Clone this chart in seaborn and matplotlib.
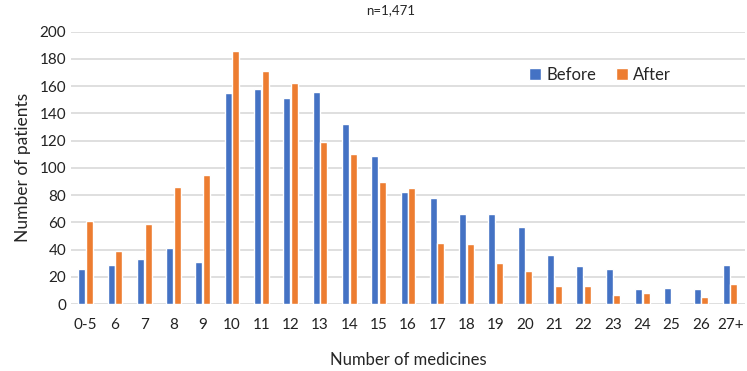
import pandas as pd
import seaborn as sns
import matplotlib.pyplot as plt

categories = ['0-5', '6', '7', '8', '9', '10', '11', '12', '13', '14', '15', '16',
              '17', '18', '19', '20', '21', '22', '23', '24', '25', '26', '27+']
before = [26, 29, 33, 41, 31, 155, 158, 151, 156, 132, 109, 82,
          78, 66, 66, 57, 36, 28, 26, 11, 12, 11, 29]
after = [61, 39, 59, 86, 95, 186, 171, 162, 119, 110, 90, 85,
         45, 44, 30, 24, 13, 13, 7, 8, 1, 5, 15]


def main():
    df = pd.DataFrame({
        'medicines': categories * 2,
        'patients': before + after,
        'period': ['Before'] * len(categories) + ['After'] * len(categories),
    })

    sns.set_style('white')
    plt.rcParams['font.family'] = ['Lato', 'DejaVu Sans']

    fig = plt.figure(figsize=(7.47, 3.71), dpi=100)
    ax = fig.add_axes([0.095, 0.18, 0.902, 0.735])

    sns.barplot(data=df, x='medicines', y='patients', hue='period',
                palette={'Before': '#4472C4', 'After': '#ED7D31'},
                saturation=1, width=0.52, gap=0.08, ax=ax, zorder=3)

    ax.set_ylim(0, 200)
    ax.set_yticks(range(0, 201, 20))
    ax.set_xlim(-0.5, len(categories) - 0.5)
    ax.yaxis.grid(True, color='#D9D9D9', linewidth=1.2, zorder=0)
    for s in ax.spines.values():
        s.set_visible(False)
    ax.tick_params(axis='both', length=0, labelsize=11, labelcolor='#222222')
    ax.tick_params(axis='x', pad=10)

    ax.set_xlabel('Number of medicines', fontsize=12, labelpad=14)
    ax.set_ylabel('Number of patients', fontsize=12.5, labelpad=6)
    fig.text(0.523, 0.99, 'n=1,471', ha='center', va='top', fontsize=9.5)

    ax.legend(title=None, frameon=False, ncol=2, fontsize=12,
              loc='center', bbox_to_anchor=(0.785, 0.84),
              handlelength=0.7, handleheight=0.7, handletextpad=0.3,
              columnspacing=1.2)

    fig.savefig('out.png', dpi=100)


if __name__ == '__main__':
    main()
